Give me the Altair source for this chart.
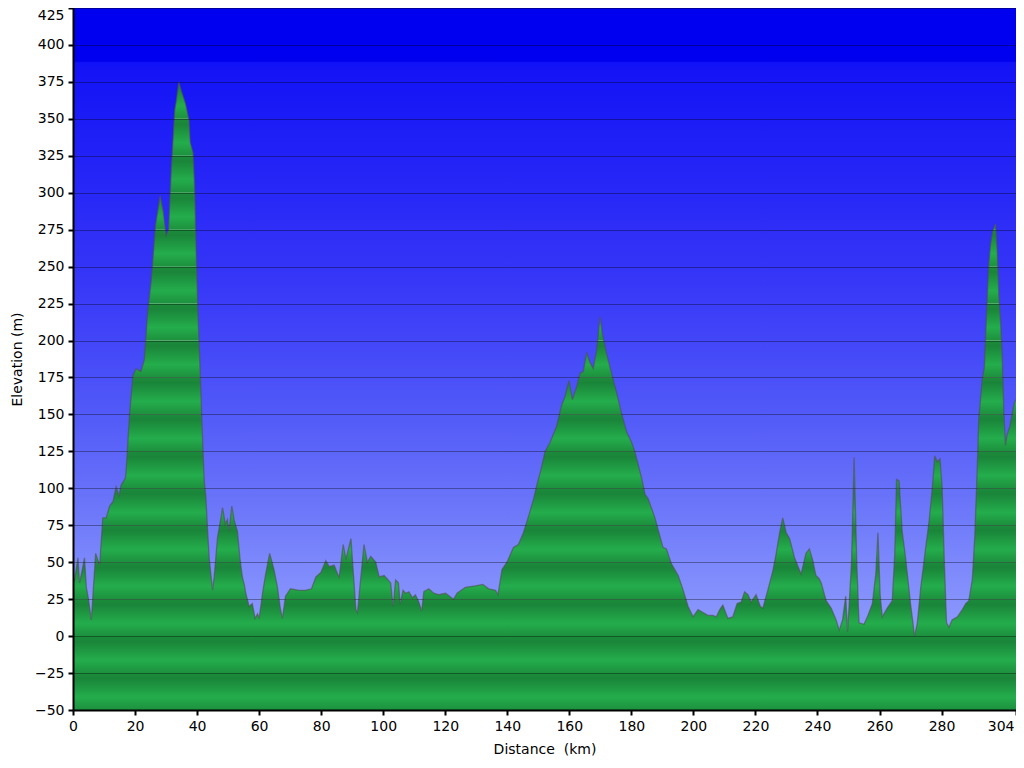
import altair as alt
import pandas as pd

# ---- data ----
distance_km = [
    0.0, 0.5, 1.6, 2.1, 3.0, 3.7, 4.3, 5.0, 5.9, 7.3, 8.6, 9.6, 10.7, 11.8, 12.9, 13.9, 14.8, 15.5,
    16.9, 17.1, 18.2, 19.3, 20.3, 21.9, 23.0, 24.1, 25.2, 25.7, 26.6, 28.1, 29.1, 30.0, 30.8, 31.7,
    32.8, 33.3, 34.1, 34.9, 36.3, 37.4, 37.8, 38.7, 39.2, 39.7, 40.3, 40.8, 41.6, 42.3, 42.8, 43.4,
    43.9, 45.0, 45.5, 46.6, 47.7, 48.2, 49.1, 49.8, 50.3, 51.2, 52.0, 53.0, 53.8, 54.6, 55.2, 55.7,
    56.8, 57.8, 58.7, 59.5, 60.0, 61.1, 62.1, 63.4, 64.8, 65.9, 66.9, 67.5, 68.5, 70.1, 72.8, 74.9,
    76.9, 78.3, 79.9, 81.5, 82.6, 84.2, 85.3, 85.8, 87.1, 88.0, 89.6, 90.3, 91.2, 91.7, 92.8, 93.8,
    94.9, 96.0, 97.6, 98.7, 100.3, 101.6, 102.4, 103.2, 104.0, 104.9, 105.5, 106.4, 107.2, 108.3,
    109.4, 110.4, 111.5, 112.4, 113.1, 114.7, 116.3, 117.9, 120.1, 122.7, 123.8, 126.5, 129.7,
    132.1, 134.0, 136.2, 137.0, 138.3, 139.9, 142.0, 143.6, 145.2, 147.0, 148.5, 149.5, 150.8,
    152.2, 153.8, 155.9, 157.5, 158.6, 159.9, 161.0, 162.4, 163.5, 164.5, 165.6, 166.7, 167.7,
    168.8, 169.9, 170.6, 172.0, 173.6, 175.2, 176.8, 178.5, 180.1, 181.1, 183.3, 184.4, 185.4,
    187.6, 190.2, 191.3, 192.9, 195.1, 196.7, 198.3, 199.9, 201.5, 203.1, 204.7, 206.3, 207.4,
    208.5, 209.5, 211.1, 212.7, 214.1, 215.4, 216.5, 217.6, 218.6, 220.2, 221.6, 222.4, 224.0,
    225.6, 226.7, 227.8, 228.8, 229.9, 231.0, 232.6, 234.7, 236.3, 237.4, 238.5, 239.5, 240.5,
    241.2, 242.8, 244.4, 246.0, 247.0, 248.1, 249.1, 249.7, 250.4, 251.0, 251.8, 252.7, 253.4,
    255.0, 256.1, 257.7, 258.8, 259.5, 260.2, 260.9, 262.5, 264.1, 264.9, 265.5, 266.3, 267.3,
    268.4, 270.0, 271.3, 272.2, 273.3, 274.9, 276.0, 277.1, 277.8, 278.6, 279.5, 280.2, 280.8,
    281.6, 282.4, 283.4, 285.1, 286.7, 287.8, 288.8, 289.9, 290.7, 291.5, 292.0, 293.1, 293.8,
    294.5, 295.2, 295.8, 296.5, 297.4, 297.9, 298.5, 299.0, 299.5, 300.1, 300.6, 301.1, 302.0,
    302.8, 303.5, 304.0,
]
elevation_m = [
    40, 38, 53, 36, 45, 53, 33, 25, 11, 56, 48, 80, 80, 88, 91, 101, 95, 102,
    107, 111, 149, 176, 181, 179, 187, 220, 240, 253, 278, 298, 287, 271, 275, 316,
    356, 362, 375, 369, 360, 349, 334, 327, 305, 260, 216, 190, 142, 105, 95, 71,
    53, 31, 40, 67, 80, 87, 76, 79, 71, 88, 78, 71, 53, 40, 35, 29,
    20, 22, 12, 15, 12, 29, 42, 56, 45, 33, 18, 12, 27, 32, 31, 31,
    32, 40, 43, 51, 47, 48, 42, 40, 62, 52, 66, 45, 18, 16, 40, 62,
    50, 54, 50, 40, 41, 38, 36, 20, 38, 36, 22, 31, 29, 30,
    26, 28, 23, 17, 30, 32, 29, 28, 29, 25, 29, 33, 34,
    35, 32, 31, 28, 45, 50, 60, 62, 70, 82, 93, 102, 112,
    125, 131, 142, 156, 162, 173, 160, 169, 178, 179, 192, 185, 181,
    193, 216, 205, 191, 178, 165, 151, 138, 131, 125, 107, 96, 93,
    80, 60, 59, 49, 41, 31, 20, 13, 18, 16, 14, 14, 13,
    18, 21, 12, 13, 22, 23, 30, 28, 23, 28, 20, 19, 31,
    44, 56, 70, 80, 70, 66, 53, 42, 56, 59, 51, 41, 39,
    36, 24, 19, 11, 4, 11, 27, 3, 28, 51, 121, 48, 9,
    8, 13, 22, 42, 70, 28, 13, 19, 24, 55, 106, 105, 71,
    53, 22, 0, 9, 33, 60, 78, 102, 122, 118, 120, 100, 56,
    9, 6, 11, 13, 18, 22, 24, 38, 67, 113, 147, 173, 182,
    218, 251, 265, 274, 279, 262, 229, 213, 191, 151, 129, 136, 142,
    151, 158, 160,
]

y_ticks = [-50, -25, 0, 25, 50, 75, 100, 125, 150, 175, 200, 225, 250, 275, 300, 325, 350, 375, 400, 425]
x_ticks = [0, 20, 40, 60, 80, 100, 120, 140, 160, 180, 200, 220, 240, 260, 280, 304]

Y_MIN, Y_MAX = -50, 425
X_MIN, X_MAX = 0, 304
W, H = 943, 702
FONT = "DejaVu Sans"

profile = pd.DataFrame({"km": distance_km, "elev": elevation_m})
bands = pd.DataFrame({"lo": y_ticks[:-1], "hi": y_ticks[1:]})

xs = alt.Scale(domain=[X_MIN, X_MAX], nice=False, zero=False)
ys = alt.Scale(domain=[Y_MIN, Y_MAX], nice=False, zero=False)

x_axis = alt.Axis(values=x_ticks, title="Distance\u00a0 (km)", grid=False, tickSize=5,
                  tickWidth=2, tickColor="black", domainColor="black", domainWidth=2,
                  labelFontSize=14, titleFontSize=14, labelFont=FONT, titleFont=FONT,
                  titleFontWeight="normal", labelColor="black", titleColor="black",
                  labelPadding=4, titlePadding=9, zindex=2, labelFlush=False,
                  labelAlign=alt.expr("datum.value == 304 ? 'right' : 'center'"),
                  labelOffset=alt.expr("datum.value == 304 ? -2 : 0"))
y_axis = alt.Axis(values=y_ticks, title="Elevation (m)", grid=True, gridColor="black",
                  gridOpacity=0.35, gridWidth=1, tickSize=5, tickWidth=2, tickColor="black",
                  domainColor="black", domainWidth=2, labelFontSize=14, titleFontSize=14,
                  labelFont=FONT, titleFont=FONT, titleFontWeight="normal",
                  labelColor="black", titleColor="black", labelPadding=4,
                  titlePadding=10, zindex=1, labelFlush=False,
                  labelBaseline=alt.expr("datum.value == 425 ? 'top' : 'middle'"))

# green striped ground (one gradient per 25 m band)
green = alt.Gradient(
    gradient="linear", x1=0, x2=0, y1=0, y2=1,
    stops=[
        alt.GradientStop(offset=0.0, color="#1B8B3B"),
        alt.GradientStop(offset=0.15, color="#1A8539"),
        alt.GradientStop(offset=0.65, color="#24AD4C"),
        alt.GradientStop(offset=1.0, color="#1D903E"),
    ],
)
ground = alt.Chart(bands).mark_rect(fill=green, strokeWidth=0).encode(
    x=alt.value(0), x2=alt.value(W),
    y=alt.Y("hi:Q", scale=ys, axis=y_axis), y2="lo:Q",
)

# blue sky gradient: area from the profile up to the top of the plot
low = min(elevation_m)
span = Y_MAX - low
sky_stops_elev = [(425, "#0000F0"), (389, "#0000F0"), (388, "#1212F6"), (300, "#2828F7"),
                  (250, "#3434F7"), (200, "#4246F8"), (150, "#525AF8"), (100, "#6670F9"),
                  (50, "#7C88FB"), (low, "#8E9BFD")]
sky_grad = alt.Gradient(
    gradient="linear", x1=0, x2=0, y1=0, y2=1,
    stops=[alt.GradientStop(offset=round((Y_MAX - e) / span, 4), color=c) for e, c in sky_stops_elev],
)
sky = alt.Chart(profile).mark_area(fill=sky_grad, strokeWidth=0, clip=True, interpolate="linear").encode(
    x=alt.X("km:Q", scale=xs, axis=x_axis),
    y=alt.Y("elev:Q", scale=ys, axis=y_axis),
    y2=alt.datum(Y_MAX),
)

outline = alt.Chart(profile).mark_line(color="#505050", strokeWidth=1.3, opacity=0.6, clip=True).encode(
    x=alt.X("km:Q", scale=xs, axis=x_axis),
    y=alt.Y("elev:Q", scale=ys, axis=y_axis),
)

chart = alt.layer(ground, sky, outline).properties(
    width=W, height=H,
    autosize=alt.AutoSizeParams(type="none"),
    padding={"left": 65, "top": 0, "right": 0, "bottom": 50},
).configure_view(stroke=None)

chart.save("out.html", embed_options={"renderer": "svg", "actions": False})
